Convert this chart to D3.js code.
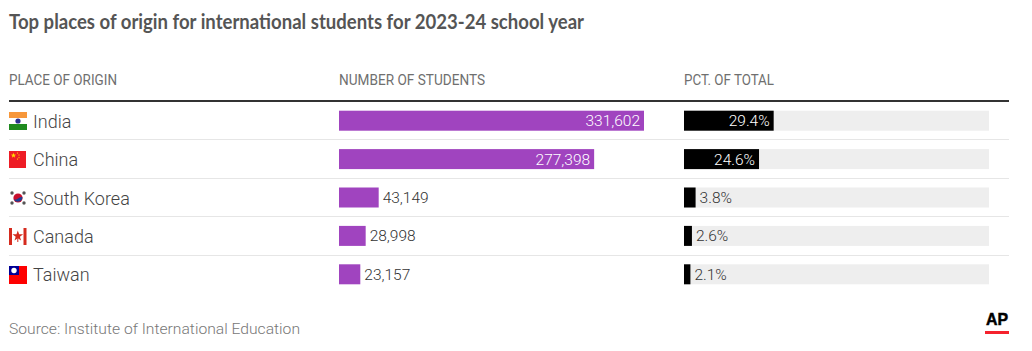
<!DOCTYPE html>
<html>
<head>
<meta charset="utf-8">
<script src="https://cdn.jsdelivr.net/npm/d3@7"></script>
<style>
  html, body { margin: 0; padding: 0; background: #fff; overflow: hidden; }
  text { font-family: "Roboto", sans-serif; }
</style>
</head>
<body>
<div id="chart"></div>
<script>
const places = ["India", "China", "South Korea", "Canada", "Taiwan"];
const students = [331602, 277398, 43149, 28998, 23157];
const pctTotal = [29.4, 24.6, 3.8, 2.6, 2.1];
const headers = ["PLACE OF ORIGIN", "NUMBER OF STUDENTS", "PCT. OF TOTAL"];

const svg = d3.select("#chart").append("svg")
    .attr("width", 1032)
    .attr("height", 351);

// title and source
svg.append("text")
    .attr("x", 9).attr("y", 29)
    .attr("textLength", 575).attr("lengthAdjust", "spacingAndGlyphs")
    .style("font-family", "Lato").style("font-size", "20px").style("font-weight", "700")
    .attr("fill", "#555")
    .text("Top places of origin for international students for 2023-24 school year");

svg.append("text")
    .attr("x", 9).attr("y", 334)
    .style("font-size", "15px").style("font-weight", "300")
    .attr("textLength", 291).attr("lengthAdjust", "spacingAndGlyphs")
    .attr("fill", "#777")
    .text("Source: Institute of International Education");

// column headers
const headerX = [9, 339, 684];
const headerW = [108, 146, 90];
svg.selectAll(".hdr").data(headers).enter().append("text")
    .attr("class", "hdr")
    .attr("x", (d, i) => headerX[i]).attr("y", 85)
    .attr("textLength", (d, i) => headerW[i]).attr("lengthAdjust", "spacingAndGlyphs")
    .style("font-size", "15px").style("font-weight", "400")
    .attr("fill", "#6f6f6f")
    .text(d => d);

svg.append("rect").attr("x", 9).attr("y", 100).attr("width", 1000).attr("height", 2).attr("fill", "#333");

// scales
const y = d3.scaleBand().domain(places).range([102, 294]);
const xStudents = d3.scaleLinear().domain([0, 331602]).range([0, 305]);
const xPct = d3.scaleLinear().domain([0, 100]).range([0, 305]);
const barH = 20;
const barY = d => y(d) + (y.bandwidth() - barH) / 2 - 0.5;

// separators
svg.selectAll(".sep").data(places.slice(0, -1)).enter().append("rect")
    .attr("class", "sep")
    .attr("x", 9).attr("width", 1000).attr("height", 1)
    .attr("y", d => Math.round(y(d) + y.bandwidth()) - 1)
    .attr("fill", "#e6e6e6");

// place names
svg.selectAll(".place").data(places).enter().append("text")
    .attr("class", "place")
    .attr("x", 33).attr("y", d => barY(d) + 17)
    .style("font-size", "18px").style("font-weight", "300")
    .attr("fill", "#444")
    .text(d => d);

// flags
function star(g, cx, cy, r, fill) {
    const pts = d3.range(10).map(i => {
        const a = -Math.PI / 2 + i * Math.PI / 5, q = i % 2 ? r * 0.4 : r;
        return [cx + q * Math.cos(a), cy + q * Math.sin(a)];
    });
    g.append("polygon").attr("points", pts.join(" ")).attr("fill", fill);
}
const flags = {
    "India": g => {
        g.append("rect").attr("width", 18).attr("height", 6).attr("fill", "#f7973a");
        g.append("rect").attr("y", 6).attr("width", 18).attr("height", 6).attr("fill", "#fff");
        g.append("rect").attr("y", 12).attr("width", 18).attr("height", 6).attr("fill", "#1f8a1f");
        g.append("circle").attr("cx", 9).attr("cy", 9).attr("r", 2.6).attr("fill", "#2a2f8f");
    },
    "China": g => {
        g.append("rect").attr("width", 17).attr("height", 17).attr("fill", "#ee1c25");
        star(g, 4.5, 4.5, 2.8, "#ffde00");
        [[8.5, 2], [10, 4], [10, 6.5], [8.5, 8]].forEach(p => star(g, p[0], p[1], 1, "#ffde00"));
    },
    "South Korea": g => {
        g.append("circle").attr("cx", 9).attr("cy", 9).attr("r", 4.6).attr("fill", "#c8102e");
        g.append("path").attr("d", "M4.6 10A4.6 4.6 0 0 0 13.4 8Q11 7.5 9 9.5T4.6 10Z").attr("fill", "#1b3f94");
        [[3, 4], [15, 4], [3, 14], [15, 14]].forEach(p =>
            g.append("circle").attr("cx", p[0]).attr("cy", p[1]).attr("r", 1.7).attr("fill", "#555"));
    },
    "Canada": g => {
        g.append("rect").attr("width", 3).attr("height", 17).attr("fill", "#d52b1e");
        g.append("rect").attr("x", 14.5).attr("width", 3).attr("height", 17).attr("fill", "#d52b1e");
        star(g, 8.8, 8, 5.6, "#d52b1e");
        g.append("rect").attr("x", 8.3).attr("y", 10).attr("width", 1).attr("height", 4).attr("fill", "#d52b1e");
    },
    "Taiwan": g => {
        g.append("rect").attr("width", 18).attr("height", 18).attr("fill", "#fe0000");
        g.append("rect").attr("width", 10).attr("height", 9).attr("fill", "#000095");
        g.append("circle").attr("cx", 5).attr("cy", 4.5).attr("r", 2.7).attr("fill", "#fff");
    }
};
const flagY = { "India": 112, "China": 151, "South Korea": 189, "Canada": 228, "Taiwan": 266 };
places.forEach(p => {
    flags[p](svg.append("g").attr("transform", `translate(9,${flagY[p]})`));
});

// student bars
svg.selectAll(".bar").data(places).enter().append("rect")
    .attr("class", "bar")
    .attr("x", 339).attr("y", barY)
    .attr("width", (d, i) => xStudents(students[i]))
    .attr("height", barH)
    .attr("fill", "#a044bf");

svg.selectAll(".val").data(places).enter().append("text")
    .attr("class", "val")
    .attr("x", (d, i) => 339 + xStudents(students[i]) + (students[i] > 100000 ? -4 : 4))
    .attr("y", d => barY(d) + 15.5)
    .attr("text-anchor", (d, i) => students[i] > 100000 ? "end" : "start")
    .style("font-size", "15.5px").style("font-weight", "300")
    .attr("fill", (d, i) => students[i] > 100000 ? "#fff" : "#333")
    .text((d, i) => d3.format(",")(students[i]));

// pct bars
svg.selectAll(".track").data(places).enter().append("rect")
    .attr("class", "track")
    .attr("x", 684).attr("y", barY)
    .attr("width", xPct(100)).attr("height", barH)
    .attr("fill", "#eee");

svg.selectAll(".pbar").data(places).enter().append("rect")
    .attr("class", "pbar")
    .attr("x", 684).attr("y", barY)
    .attr("width", (d, i) => xPct(pctTotal[i]))
    .attr("height", barH)
    .attr("fill", "#000");

svg.selectAll(".pval").data(places).enter().append("text")
    .attr("class", "pval")
    .attr("x", (d, i) => 684 + xPct(pctTotal[i]) + (pctTotal[i] > 10 ? -4 : 4))
    .attr("y", d => barY(d) + 15.5)
    .attr("text-anchor", (d, i) => pctTotal[i] > 10 ? "end" : "start")
    .style("font-size", "15.5px").style("font-weight", "300")
    .attr("fill", (d, i) => pctTotal[i] > 10 ? "#fff" : "#333")
    .text((d, i) => pctTotal[i].toFixed(1) + "%");

// AP logo
svg.append("text")
    .attr("x", 986).attr("y", 325)
    .attr("textLength", 22).attr("lengthAdjust", "spacingAndGlyphs")
    .style("font-family", "'Liberation Sans', sans-serif")
    .style("font-size", "17px").style("font-weight", "700")
    .attr("fill", "#000").attr("stroke", "#000").attr("stroke-width", 0.5)
    .text("AP");
svg.append("rect").attr("x", 985).attr("y", 331).attr("width", 24).attr("height", 3).attr("fill", "#f5222d");
</script>
</body>
</html>
